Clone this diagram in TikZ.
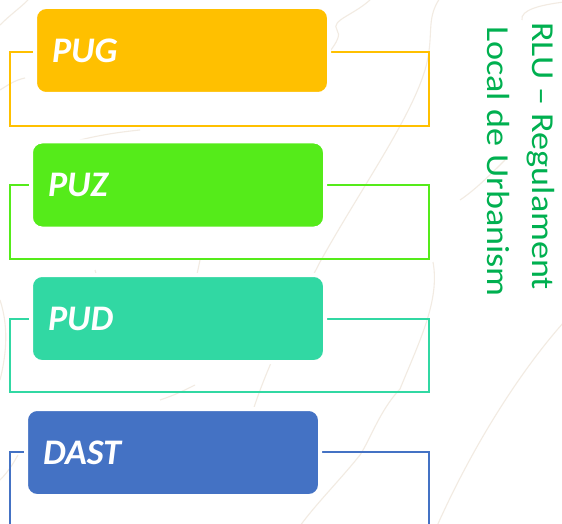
\documentclass[tikz,border=0pt]{standalone}
\usepackage{fontspec}
\setmainfont{Carlito}
\newfontfamily\labelfont{Carlito}
\definecolor{cPUG}{HTML}{FFC000}
\definecolor{cPUZ}{HTML}{55EB1A}
\definecolor{cPUD}{HTML}{31D8A3}
\definecolor{cDAST}{HTML}{4472C4}
\definecolor{rlugreen}{HTML}{00B050}
\definecolor{contour}{HTML}{F2EBE2}
\begin{document}
\begin{tikzpicture}[x=1pt,y=-1pt,
  stagebox/.style={rounded corners=11pt, draw=white, line width=4pt,
    minimum height=87pt, text width=260pt, inner xsep=17pt, inner ysep=0pt,
    align=left, text=white,
    font=\labelfont\bfseries\itshape\fontsize{36}{40}\selectfont},
  frame/.style={line width=2pt},
  contourline/.style={draw=contour, line width=1.1pt},
  sidetext/.style={rotate=-90, anchor=base west, inner sep=0pt, text=rlugreen,
    font=\labelfont\fontsize{32}{36}\selectfont}]
\useasboundingbox (0,0) rectangle (562,524);
\clip (0,0) rectangle (562,524);
\fill[white] (0,0) rectangle (562,524);

% faint contour lines in the background
\draw[contourline] (440,-2) .. controls (425,20) and (435,35) .. (425,70)
  .. controls (410,120) and (360,190) .. (320,262)
  .. controls (290,320) and (265,370) .. (250,420);
\draw[contourline] (433,262) .. controls (440,300) and (420,340) .. (400,389)
  .. controls (380,410) and (370,440) .. (360,455)
  .. controls (340,480) and (315,505) .. (300,526);
\draw[contourline] (564,322) .. controls (530,360) and (480,430) .. (437,526);
\draw[contourline] (372,-2) .. controls (355,15) and (330,20) .. (337,30)
  .. controls (345,40) and (320,60) .. (300,90);
\draw[contourline] (564,2) .. controls (540,5) and (520,10) .. (522,20);
\draw[contourline] (505,160) .. controls (490,175) and (475,190) .. (460,200);
\draw[contourline] (0,25) .. controls (10,15) and (20,8) .. (28,0);
\draw[contourline] (0,90) .. controls (8,85) and (15,80) .. (25,78);
\draw[contourline] (0,300) .. controls (10,330) and (5,360) .. (0,380);
\draw[contourline] (0,480) .. controls (10,470) and (15,460) .. (18,455);
\draw[contourline] (80,140) .. controls (100,135) and (120,132) .. (140,130);
\draw[contourline] (95,270) .. controls (100,285) and (100,300) .. (98,318);
\draw[contourline] (200,260) .. controls (195,285) and (190,300) .. (192,318);
\draw[contourline] (160,400) .. controls (175,395) and (185,390) .. (195,385);

% frames behind the boxes
\draw[frame, draw=cPUG]  (10,52)  rectangle (429,126);
\draw[frame, draw=cPUZ]  (10,185) rectangle (429,259);
\draw[frame, draw=cPUD]  (10,319) rectangle (429,392);
\draw[frame, draw=cDAST] (10,530) |- (429,452) -- (429,530);

% title boxes
\node[stagebox, fill=cPUG]  (pug)  at (182,50.5)  {PUG};
\node[stagebox, fill=cPUZ]  (puz)  at (178,185)   {PUZ};
\node[stagebox, fill=cPUD]  (pud)  at (178,318.5) {PUD};
\node[stagebox, fill=cDAST] (dast) at (173,452.5) {DAST};

% vertical caption
\node[sidetext] (rlu) at (532,22) {\scalebox{1.13}[1]{RLU – Regulament}};
\node[sidetext] (local) at (487,26) {\scalebox{1.13}[1]{Local de Urbanism}};
\end{tikzpicture}
\end{document}
